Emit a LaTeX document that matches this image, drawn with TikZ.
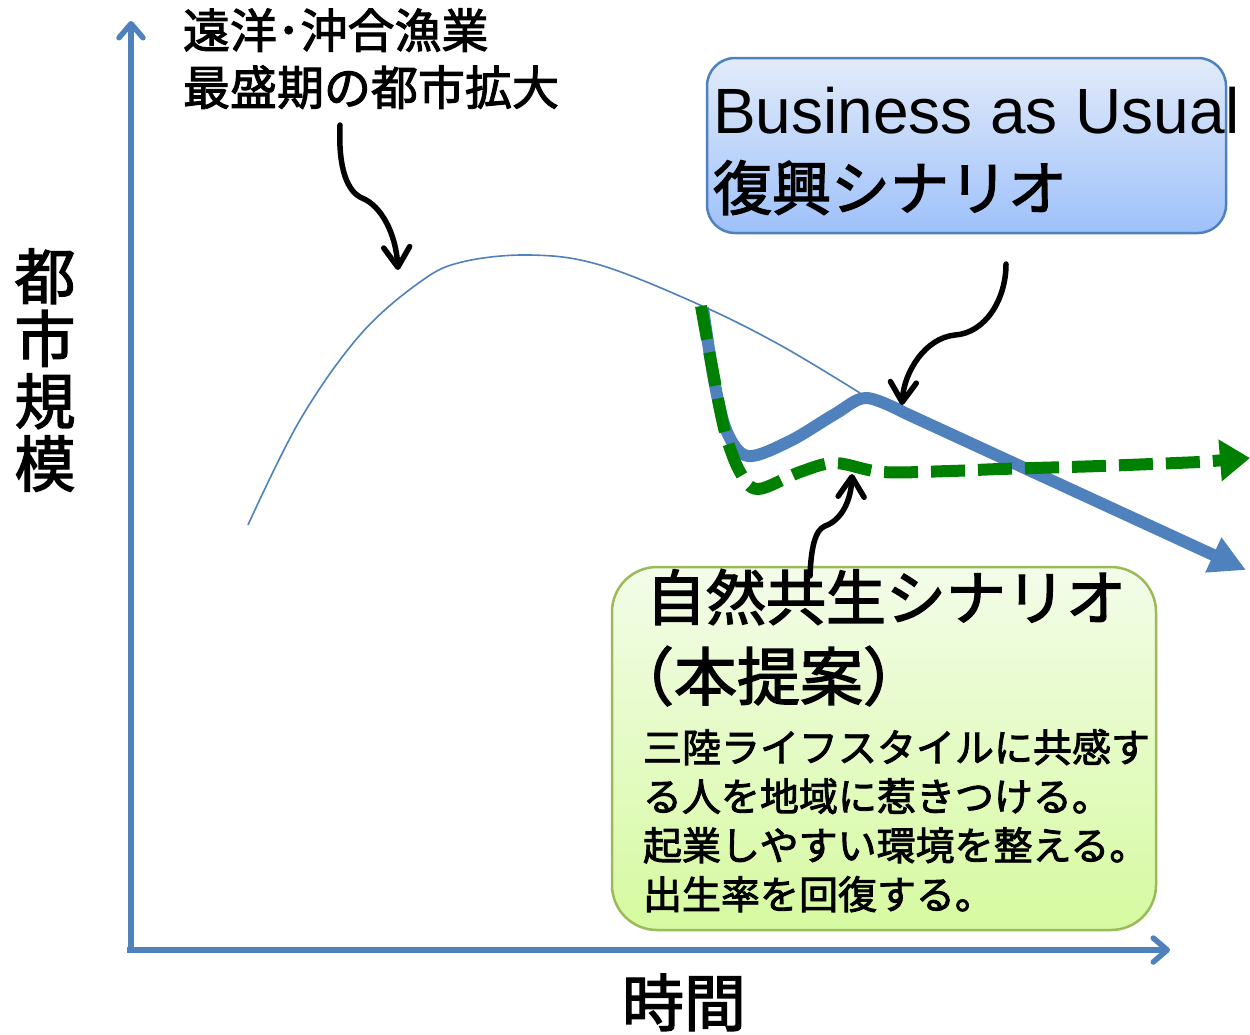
\documentclass[tikz,border=0pt]{standalone}
\usepackage{fontspec}
\usetikzlibrary{arrows.meta,shadings}
\newfontfamily\jp[FakeBold=2.2]{Noto Sans CJK JP}
\newfontfamily\arialf{Liberation Sans}
\definecolor{axisblue}{RGB}{79,129,189}
\definecolor{dashgreen}{RGB}{0,128,0}
\definecolor{baubord}{RGB}{79,129,189}
\definecolor{bautop}{RGB}{226,235,250}
\definecolor{baubot}{RGB}{158,193,250}
\definecolor{grbord}{RGB}{155,187,89}
\definecolor{grtop}{RGB}{243,252,233}
\definecolor{grbot}{RGB}{214,250,160}
\begin{document}
\begin{tikzpicture}[x=1pt,y=-1pt,
  txt/.style={inner sep=0pt,outer sep=0pt,anchor=base west},
  axisline/.style={draw=axisblue,line width=5.5pt,-{Straight Barb[length=14pt,width=24pt,round]}},
  histcurve/.style={draw=axisblue,line width=1.6pt},
  baucurve/.style={draw=axisblue,line width=12pt,line join=round,-{Triangle[length=36pt,width=36pt]}},
  natcurve/.style={draw=dashgreen,line width=12pt,dash pattern=on 34pt off 13pt,-{Triangle[length=30pt,width=40pt]}},
  callout/.style={draw=black,line width=5.5pt,line cap=round,-{Straight Barb[length=20pt,width=26pt,round]}},
  baubox/.style={draw=baubord,line width=2.5pt,rounded corners=28pt,top color=bautop,bottom color=baubot,minimum width=519pt,minimum height=175pt,inner sep=0pt},
  natbox/.style={draw=grbord,line width=2.5pt,rounded corners=45pt,top color=grtop,bottom color=grbot,minimum width=544pt,minimum height=363pt,inner sep=0pt},
]
\useasboundingbox (0,0) rectangle (1250,1034);
\fill[white] (0,0) rectangle (1250,1034);

% axes
\coordinate (O) at (131,950);
\coordinate (ytop) at (131,21);
\coordinate (xstart) at (127,950);
\coordinate (xend) at (1170,950);
\draw[axisline] (O) -- (ytop);
\draw[axisline] (xstart) -- (xend);

% axis labels
\node[inner sep=0pt,align=center,font={\jp\fontsize{61}{62.5}\selectfont}] (ylab) at (45,370) {都\\市\\規\\模};
\node[inner sep=0pt,anchor=base,font={\jp\fontsize{62}{62}\selectfont}] (xlab) at (684,1026) {時間};

% boxes
\node[baubox] (bau) at (966.5,145.5) {};
\node[natbox] (nat) at (884,748.5) {};

% thin historical curve
\draw[histcurve] plot[smooth,tension=0.6] coordinates {(248,525) (300,420) (360,335) (420,282) (462,262) (530,255) (600,265) (700,305) (780,345) (860,393)};

% BAU curve
\draw[baucurve] plot[smooth,tension=0.55] coordinates {(703,308) (714,380) (727,432) (748,456) (790,441) (835,414) (866,398) (905,413)} -- (1246,570);

% nature curve
\draw[natcurve] plot[smooth,tension=0.55] coordinates {(701,306) (713,372) (725,432) (740,472) (758,489) (800,472) (835,463) (882,472) (950,471) (1000,469) (1100,466) (1200,462)} -- (1250,458);

% labels
\node[txt,font={\jp\fontsize{47}{47}\selectfont}] (lbl1) at (183,48) {遠洋･沖合漁業};
\node[txt,font={\jp\fontsize{47}{47}\selectfont}] (lbl2) at (183,105) {最盛期の都市拡大};
\node[txt,font={\arialf\fontsize{64}{64}\selectfont}] (bau1) at (713,133) {Business as Usual};
\node[txt,font={\jp\fontsize{59}{59}\selectfont}] (bau2) at (713,210) {復興シナリオ};
\node[txt,font={\jp\fontsize{60}{60}\selectfont}] (nat1) at (646,620) {自然共生シナリオ};
\node[txt,font={\jp\fontsize{63}{63}\selectfont}] (nat2) at (611,700) {（本提案）};
\node[txt,font={\jp\fontsize{39}{39}\selectfont}] (nat3) at (643,762) {三陸ライフスタイルに共感す};
\node[txt,font={\jp\fontsize{39}{39}\selectfont}] (nat4) at (643,811) {る人を地域に惹きつける。};
\node[txt,font={\jp\fontsize{39}{39}\selectfont}] (nat5) at (643,860) {起業しやすい環境を整える。};
\node[txt,font={\jp\fontsize{39}{39}\selectfont}] (nat6) at (643,909) {出生率を回復する。};

% callouts
\coordinate (c1s) at (340,125);
\coordinate (c1e) at (398,270);
\draw[callout] (c1s) .. controls (338,170) and (348,192) .. (362,198) .. controls (382,206) and (396,235) .. (c1e);
\coordinate (c2s) at (1006,264);
\coordinate (c2e) at (902,405);
\draw[callout] (c2s) .. controls (1006,300) and (985,333) .. (955,335) .. controls (925,338) and (904,372) .. (c2e);
\coordinate (c3s) at (810,576);
\coordinate (c3e) at (852,474);
\draw[callout] (c3s) .. controls (811,548) and (815,530) .. (825,526) .. controls (842,520) and (851,500) .. (c3e);
\end{tikzpicture}
\end{document}
